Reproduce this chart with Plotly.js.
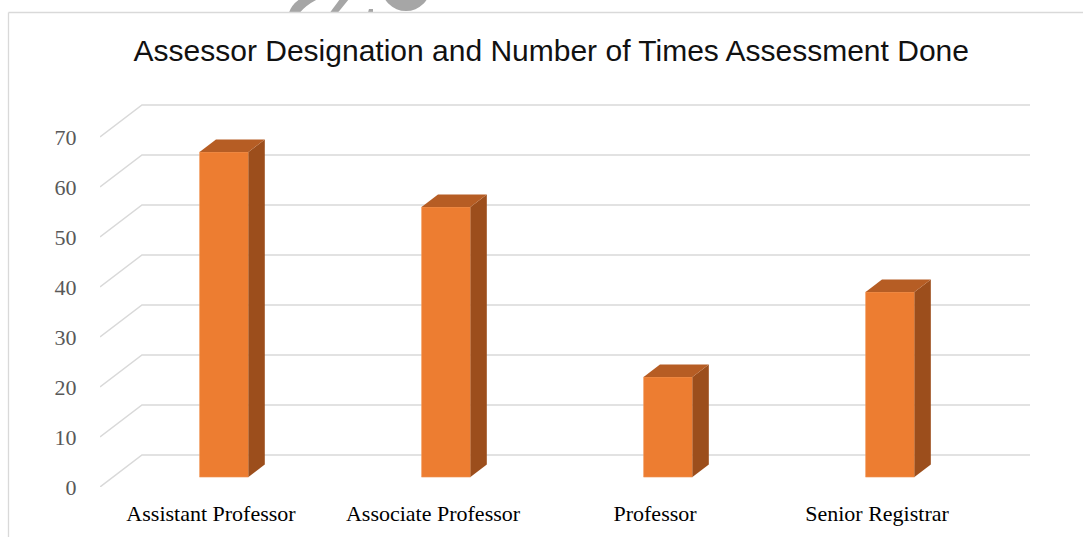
<!DOCTYPE html>
<html>
<head>
<meta charset="utf-8">
<script src="https://cdn.plot.ly/plotly-3.0.1.min.js"></script>
<style>html,body{margin:0;padding:0;background:#fff;}#chart{width:1083px;height:537px;}</style>
</head>
<body>
<div id="chart"></div>
<script>
// ---- data ----
const categories = ["Assistant Professor", "Associate Professor", "Professor", "Senior Registrar"];
const values = [65, 54, 20, 37];
const yTicks = [0, 10, 20, 30, 40, 50, 60, 70];
const chartTitle = "Assessor Designation and Number of Times Assessment Done";

// ---- 3D oblique projection constants (axis units) ----
const DX = 0.189;   // depth offset along x (category units)
const DY = 6.4;     // depth offset along y (value units)
const D0 = 0.31;    // bar front depth fraction
const D1 = 0.70;    // bar back depth fraction
const HW = 0.11;    // bar half width
const XMIN = -0.5, XMAX = 3.5 + DX;

const idx = categories.map((c, i) => i);
const traces = [];

// front faces (bars)
traces.push({
  type: "bar",
  x: idx.map(i => i + D0 * DX),
  y: values,
  base: values.map(() => D0 * DY),
  width: 2 * HW,
  marker: {color: "#ED7D31", line: {color: "#F19A5C", width: 0.6}},
  hoverinfo: "skip",
  showlegend: false
});

// side & top faces
values.forEach((v, i) => {
  const xl = i - HW, xr = i + HW;
  traces.push({
    type: "scatter", mode: "lines", fill: "toself",
    x: [xr + D0 * DX, xr + D1 * DX, xr + D1 * DX, xr + D0 * DX, xr + D0 * DX],
    y: [D0 * DY, D1 * DY, v + D1 * DY, v + D0 * DY, D0 * DY],
    fillcolor: "#9C4E1C", line: {width: 0, color: "#9C4E1C"},
    hoverinfo: "skip", showlegend: false
  });
  traces.push({
    type: "scatter", mode: "lines", fill: "toself",
    x: [xl + D0 * DX, xr + D0 * DX, xr + D1 * DX, xl + D1 * DX, xl + D0 * DX],
    y: [v + D0 * DY, v + D0 * DY, v + D1 * DY, v + D1 * DY, v + D0 * DY],
    fillcolor: "#B65D24", line: {width: 0, color: "#B65D24"},
    hoverinfo: "skip", showlegend: false
  });
});

// gridlines (floor diagonal + back wall) as shapes below traces
const shapes = yTicks.map(t => ({
  type: "path", xref: "x", yref: "y", layer: "below",
  path: `M ${XMIN},${t} L ${XMIN + DX},${t + DY} L ${XMAX},${t + DY}`,
  line: {color: "#D9D9D9", width: 1.5}
}));

// pixel -> paper helpers for frame and watermark
const L = 100, R = 1030, T = 80, B = 487;
const px = x => (x - L) / (R - L);
const py = y => (B - y) / (B - T);
function p(pts) { return pts.map((q, k) => (k === 0 ? "M " : "L ") + px(q[0]) + "," + py(q[1])).join(" ") + " Z"; }

// watermark pieces above the frame
shapes.push({type: "path", xref: "paper", yref: "paper", layer: "below",
  path: `M ${px(289)},${py(12.5)} Q ${px(292)},${py(4)} ${px(300)},${py(-1)} L ${px(318)},${py(-1)} Q ${px(306)},${py(5)} ${px(300)},${py(12.5)} Z`,
  fillcolor: "#A6A6A6", line: {width: 0}});
shapes.push({type: "path", xref: "paper", yref: "paper", layer: "below",
  path: p([[330, 12.5], [338, 12.5], [349, -1], [340, -1]]),
  fillcolor: "#A6A6A6", line: {width: 0}});
shapes.push({type: "path", xref: "paper", yref: "paper", layer: "below",
  path: p([[368, 12.5], [373, 12.5], [373, 9], [369, 9]]),
  fillcolor: "#A6A6A6", line: {width: 0}});
shapes.push({type: "circle", xref: "paper", yref: "paper", layer: "below",
  x0: px(406 - 24.6), x1: px(406 + 24.6), y0: py(11), y1: py(11 - 49.2),
  fillcolor: "#A6A6A6", line: {width: 0}});
// frame lines
shapes.push({type: "line", xref: "paper", yref: "paper", layer: "below",
  x0: px(8.5), x1: px(1083), y0: py(12.5), y1: py(12.5), line: {color: "#D9D9D9", width: 1.3}});
shapes.push({type: "line", xref: "paper", yref: "paper", layer: "below",
  x0: px(8.5), x1: px(8.5), y0: py(12.5), y1: py(540), line: {color: "#D9D9D9", width: 1.3}});

const layout = {
  width: 1083, height: 537,
  margin: {l: L, r: 1083 - R, t: T, b: 537 - B, pad: 0},
  paper_bgcolor: "#ffffff", plot_bgcolor: "rgba(0,0,0,0)",
  title: {
    text: chartTitle, x: 0.509, xref: "container", xanchor: "center",
    y: 1 - 50 / 537, yref: "container", yanchor: "middle",
    font: {family: "Liberation Sans, Arial, sans-serif", size: 30, color: "#111111"}
  },
  xaxis: {
    range: [XMIN, XMAX], tickvals: idx, ticktext: categories,
    showgrid: false, zeroline: false, showline: false,
    ticks: "outside", ticklen: 7, tickcolor: "rgba(0,0,0,0)",
    tickfont: {family: "Liberation Serif, Times New Roman, serif", size: 22, color: "#000000"},
    fixedrange: true
  },
  yaxis: {
    range: [0, (B - T) / 5.0], tickvals: yTicks, ticktext: yTicks.map(String),
    showgrid: false, zeroline: false, showline: false,
    ticks: "outside", ticklen: 18, tickcolor: "rgba(0,0,0,0)",
    tickfont: {family: "Liberation Serif, Times New Roman, serif", size: 22, color: "#595959"},
    fixedrange: true
  },
  shapes: shapes,
  showlegend: false,
  hovermode: false,
  bargap: 0
};

Plotly.newPlot("chart", traces, layout, {displayModeBar: false, staticPlot: true});
</script>
</body>
</html>
